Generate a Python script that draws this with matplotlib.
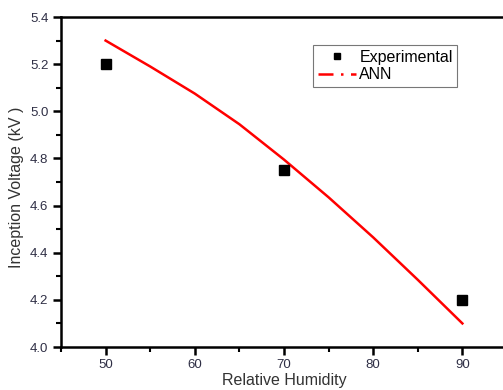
import numpy as np
import matplotlib.pyplot as plt
from matplotlib.lines import Line2D
from matplotlib.ticker import MultipleLocator

plt.rcParams['font.family'] = ['Liberation Sans', 'DejaVu Sans']

# measured points
rh_exp = [50, 70, 90]
v_exp = [5.2, 4.75, 4.2]

# network prediction
rh_ann = [50, 55, 60, 65, 70, 75, 80, 85, 90]
v_ann = [5.30, 5.19, 5.075, 4.945, 4.795, 4.635, 4.465, 4.285, 4.10]

fig = plt.figure(figsize=(5.03, 3.9), dpi=100)
ax = fig.add_axes([61 / 503, 1 - 347 / 390, 446 / 503, 330 / 390])

ax.plot(rh_ann, v_ann, color='red', lw=1.8, zorder=2)
ax.plot(rh_exp, v_exp, 's', color='black', ms=7, zorder=3)

ax.set_xlim(45, 95)
ax.set_ylim(4.0, 5.4)
ax.xaxis.set_major_locator(MultipleLocator(10))
ax.xaxis.set_minor_locator(MultipleLocator(5))
ax.yaxis.set_major_locator(MultipleLocator(0.2))
ax.yaxis.set_minor_locator(MultipleLocator(0.1))
ax.yaxis.set_major_formatter(plt.FormatStrFormatter('%.1f'))

for s in ax.spines.values():
    s.set_linewidth(1.8)
ax.spines['right'].set_visible(False)
ax.tick_params(which='major', direction='out', length=6, width=1.8, pad=3,
               labelsize=9.5, labelcolor='#2f2f45', top=False, right=False)
ax.tick_params(which='minor', direction='out', length=3.5, width=1.5,
               top=False, right=False)

ax.set_xlabel('Relative Humidity', fontsize=11.5, color='#333333', labelpad=1)
ax.set_ylabel('Inception Voltage (kV )', fontsize=11.5, color='#333333')
ax.yaxis.set_label_coords(-0.084, 0.485)

handles = [
    Line2D([], [], marker='s', ls='none', color='black', ms=5),
    Line2D([], [], color='red', lw=1.8, ls=(0, (6, 3, 1, 3))),
]
leg = fig.legend(handles, ['Experimental', 'ANN'], loc='upper left',
                 bbox_to_anchor=(313 / 503, 1 - 45 / 390), fontsize=11.5,
                 frameon=True, fancybox=False, handlelength=2.4,
                 handletextpad=0.2, borderpad=0.3, labelspacing=0.15,
                 borderaxespad=0)
leg.get_frame().set_edgecolor('#555555')
leg.get_frame().set_linewidth(0.8)

fig.savefig('out.png', dpi=100)
